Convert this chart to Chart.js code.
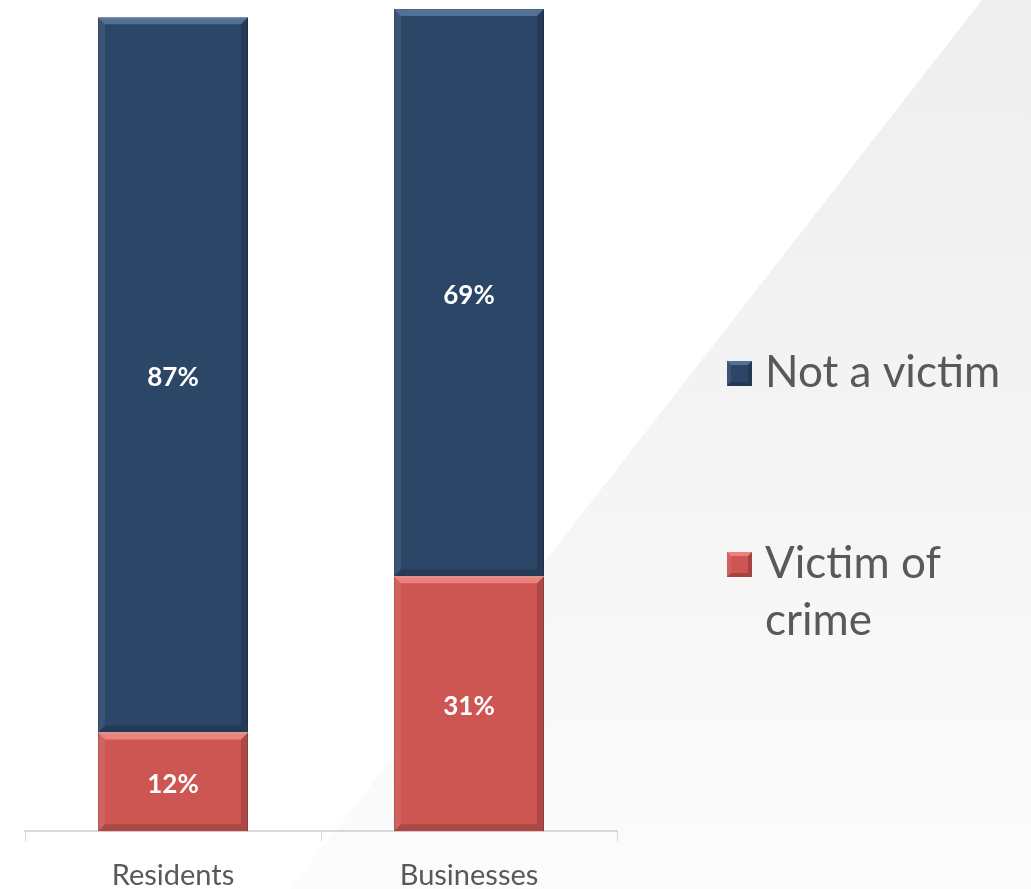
<!DOCTYPE html>
<html>
<head>
<meta charset="utf-8">
<script src="https://cdn.jsdelivr.net/npm/chart.js@4"></script>
<style>
  html, body { margin: 0; padding: 0; background: #ffffff; }
  #wrap { width: 1031px; height: 889px; position: relative; }
</style>
</head>
<body>
<div id="wrap"><canvas id="chart" width="1031" height="889"></canvas></div>
<script>
const categories = ["Residents", "Businesses"];
const victimValues = [12, 31];
const notVictimValues = [87, 69];
const seriesNames = ["Victim of crime", "Not a victim"];
const legendLines = [["Not a victim"], ["Victim of", "crime"]];

const FONT = "Lato, 'Open Sans', sans-serif";

// light grey diagonal panel behind everything
const backdrop = {
  id: "backdrop",
  beforeDraw(chart) {
    const ctx = chart.ctx;
    ctx.save();
    ctx.fillStyle = "#ffffff";
    ctx.fillRect(0, 0, chart.width, chart.height);
    const g = ctx.createLinearGradient(0, 0, 0, chart.height);
    g.addColorStop(0, "#eeeeee");
    g.addColorStop(0.5, "#f4f4f4");
    g.addColorStop(1, "#fcfcfc");
    ctx.fillStyle = g;
    ctx.beginPath();
    ctx.moveTo(982, 0);
    ctx.lineTo(chart.width, 0);
    ctx.lineTo(chart.width, chart.height);
    ctx.lineTo(290, chart.height);
    ctx.closePath();
    ctx.fill();
    ctx.restore();
  }
};

function bevel(ctx, x0, y0, x1, y1, d, light, dark) {
  ctx.fillStyle = light;
  ctx.beginPath();
  ctx.moveTo(x0, y0); ctx.lineTo(x1, y0); ctx.lineTo(x1 - d, y0 + d); ctx.lineTo(x0 + d, y0 + d);
  ctx.fill();
  ctx.fillStyle = "rgba(255,255,255,0.08)";
  ctx.beginPath();
  ctx.moveTo(x0, y0); ctx.lineTo(x0 + d, y0 + d); ctx.lineTo(x0 + d, y1 - d); ctx.lineTo(x0, y1);
  ctx.fill();
  ctx.fillStyle = dark;
  ctx.beginPath();
  ctx.moveTo(x1, y0); ctx.lineTo(x1, y1); ctx.lineTo(x1 - d, y1 - d); ctx.lineTo(x1 - d, y0 + d);
  ctx.fill();
  ctx.beginPath();
  ctx.moveTo(x0, y1); ctx.lineTo(x1, y1); ctx.lineTo(x1 - d, y1 - d); ctx.lineTo(x0 + d, y1 - d);
  ctx.fill();
}

// bevel edges, labels inside the bars
const barDecor = {
  id: "barDecor",
  afterDatasetsDraw(chart) {
    const ctx = chart.ctx;
    ctx.save();
    chart.data.datasets.forEach((ds, di) => {
      const meta = chart.getDatasetMeta(di);
      meta.data.forEach((bar, i) => {
        const half = bar.width / 2;
        const x0 = bar.x - half, x1 = bar.x + half;
        const y0 = Math.min(bar.y, bar.base), y1 = Math.max(bar.y, bar.base);
        bevel(ctx, x0, y0, x1, y1, 7, ds.bevelLight, "rgba(0,0,0,0.16)");
        ctx.fillStyle = "#ffffff";
        ctx.font = "bold 26px " + FONT;
        ctx.textAlign = "center";
        ctx.textBaseline = "middle";
        ctx.fillText(ds.data[i] + "%", bar.x, (y0 + y1) / 2 + 3);
      });
    });
    ctx.restore();
  }
};

// legend at the right, drawn from the dataset names
const sideLegend = {
  id: "sideLegend",
  afterDraw(chart) {
    const ctx = chart.ctx;
    const order = [1, 0];
    const tops = [373, 564];
    ctx.save();
    ctx.font = "44px " + FONT;
    ctx.textBaseline = "middle";
    ctx.textAlign = "left";
    order.forEach((di, k) => {
      const ds = chart.data.datasets[di];
      const y = tops[k];
      ctx.fillStyle = ds.backgroundColor;
      ctx.fillRect(727, y - 12, 25, 25);
      bevel(ctx, 727, y - 12, 752, y + 13, 4, ds.bevelLight, "rgba(0,0,0,0.2)");
      ctx.fillStyle = "#595959";
      legendLines[k].forEach((line, j) => {
        ctx.fillText(line, 765, y + j * 57);
      });
    });
    ctx.restore();
  }
};

new Chart(document.getElementById("chart"), {
  type: "bar",
  data: {
    labels: categories,
    datasets: [
      {
        label: seriesNames[0],
        data: victimValues,
        backgroundColor: "#cd5653",
        borderColor: "#a54442",
        borderWidth: 1,
        bevelLight: "rgba(255,160,155,0.6)"
      },
      {
        label: seriesNames[1],
        data: notVictimValues,
        backgroundColor: "#2c4668",
        borderColor: "#1f3450",
        borderWidth: 1,
        bevelLight: "rgba(110,140,180,0.6)"
      }
    ]
  },
  options: {
    responsive: false,
    animation: false,
    layout: { padding: { top: 9, left: 25, right: 414, bottom: -21 } },
    datasets: { bar: { categoryPercentage: 1, barPercentage: 0.507 } },
    plugins: { legend: { display: false }, tooltip: { enabled: false } },
    scales: {
      x: {
        stacked: true,
        grid: { display: true, drawOnChartArea: false, color: "#d9d9d9", tickLength: 10, offset: true },
        border: { display: true, color: "#d9d9d9", width: 2 },
        ticks: { color: "#595959", font: { family: FONT, size: 29 }, padding: 17 }
      },
      y: {
        stacked: true,
        display: false,
        min: 0,
        max: 100
      }
    }
  },
  plugins: [backdrop, barDecor, sideLegend]
});
</script>
</body>
</html>
